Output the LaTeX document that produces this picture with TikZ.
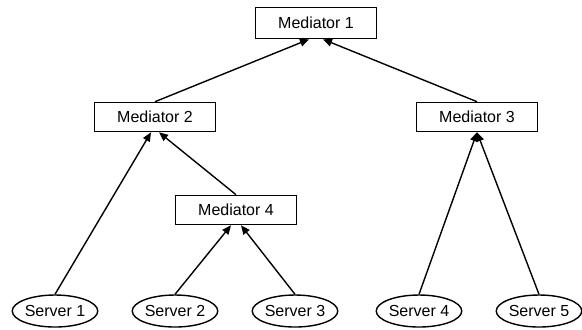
\documentclass[tikz,border=0pt]{standalone}
\usepackage{fontspec}
\setmainfont{Liberation Sans}
\usetikzlibrary{arrows.meta,shapes.geometric}
\tikzset{
  mbox/.style={draw, line width=0.8pt, minimum width=60.5pt, minimum height=14.5pt,
               inner sep=0pt, font=\fontsize{8}{9.6}\selectfont},
  snode/.style={ellipse, draw, line width=0.7pt, minimum width=40pt, minimum height=16pt,
                inner sep=0pt, font=\fontsize{8}{9.6}\selectfont},
  link/.style={line width=0.7pt, -{Triangle[length=4.5pt,width=3.8pt]}},
}

\begin{document}
\begin{tikzpicture}[x=0.5pt,y=-0.5pt]
  \useasboundingbox (0,0) rectangle (582,329);
  % ---- mediators ----
  \node[mbox, minimum height=15.5pt] (m1) at (316,23) {Mediator 1};
  \node[mbox] (m2) at (155,117) {Mediator 2};
  \node[mbox] (m3) at (477,117) {Mediator 3};
  \node[mbox] (m4) at (236,210) {Mediator 4};
  % ---- servers ----
  \foreach \k/\x in {1/55,2/175,3/295,4/419,5/539}{
    \node[snode] (s\k) at (\x,311) {Server \k};
  }
  % ---- links ----
  \draw[link] (m2.north) -- ([xshift=-3.5pt]m1.south);
  \draw[link] (m3.north) -- ([xshift=3.5pt]m1.south);
  \draw[link] (s1.north) -- ([xshift=-2pt]m2.south);
  \draw[link] (m4.north) -- ([xshift=2pt]m2.south);
  \draw[link] (s2.north) -- ([xshift=-2.5pt]m4.south);
  \draw[link] (s3.north) -- ([xshift=2.5pt]m4.south);
  \draw[link] (s4.north) -- (m3.south);
  \draw[link] (s5.north) -- (m3.south);
\end{tikzpicture}
\end{document}
